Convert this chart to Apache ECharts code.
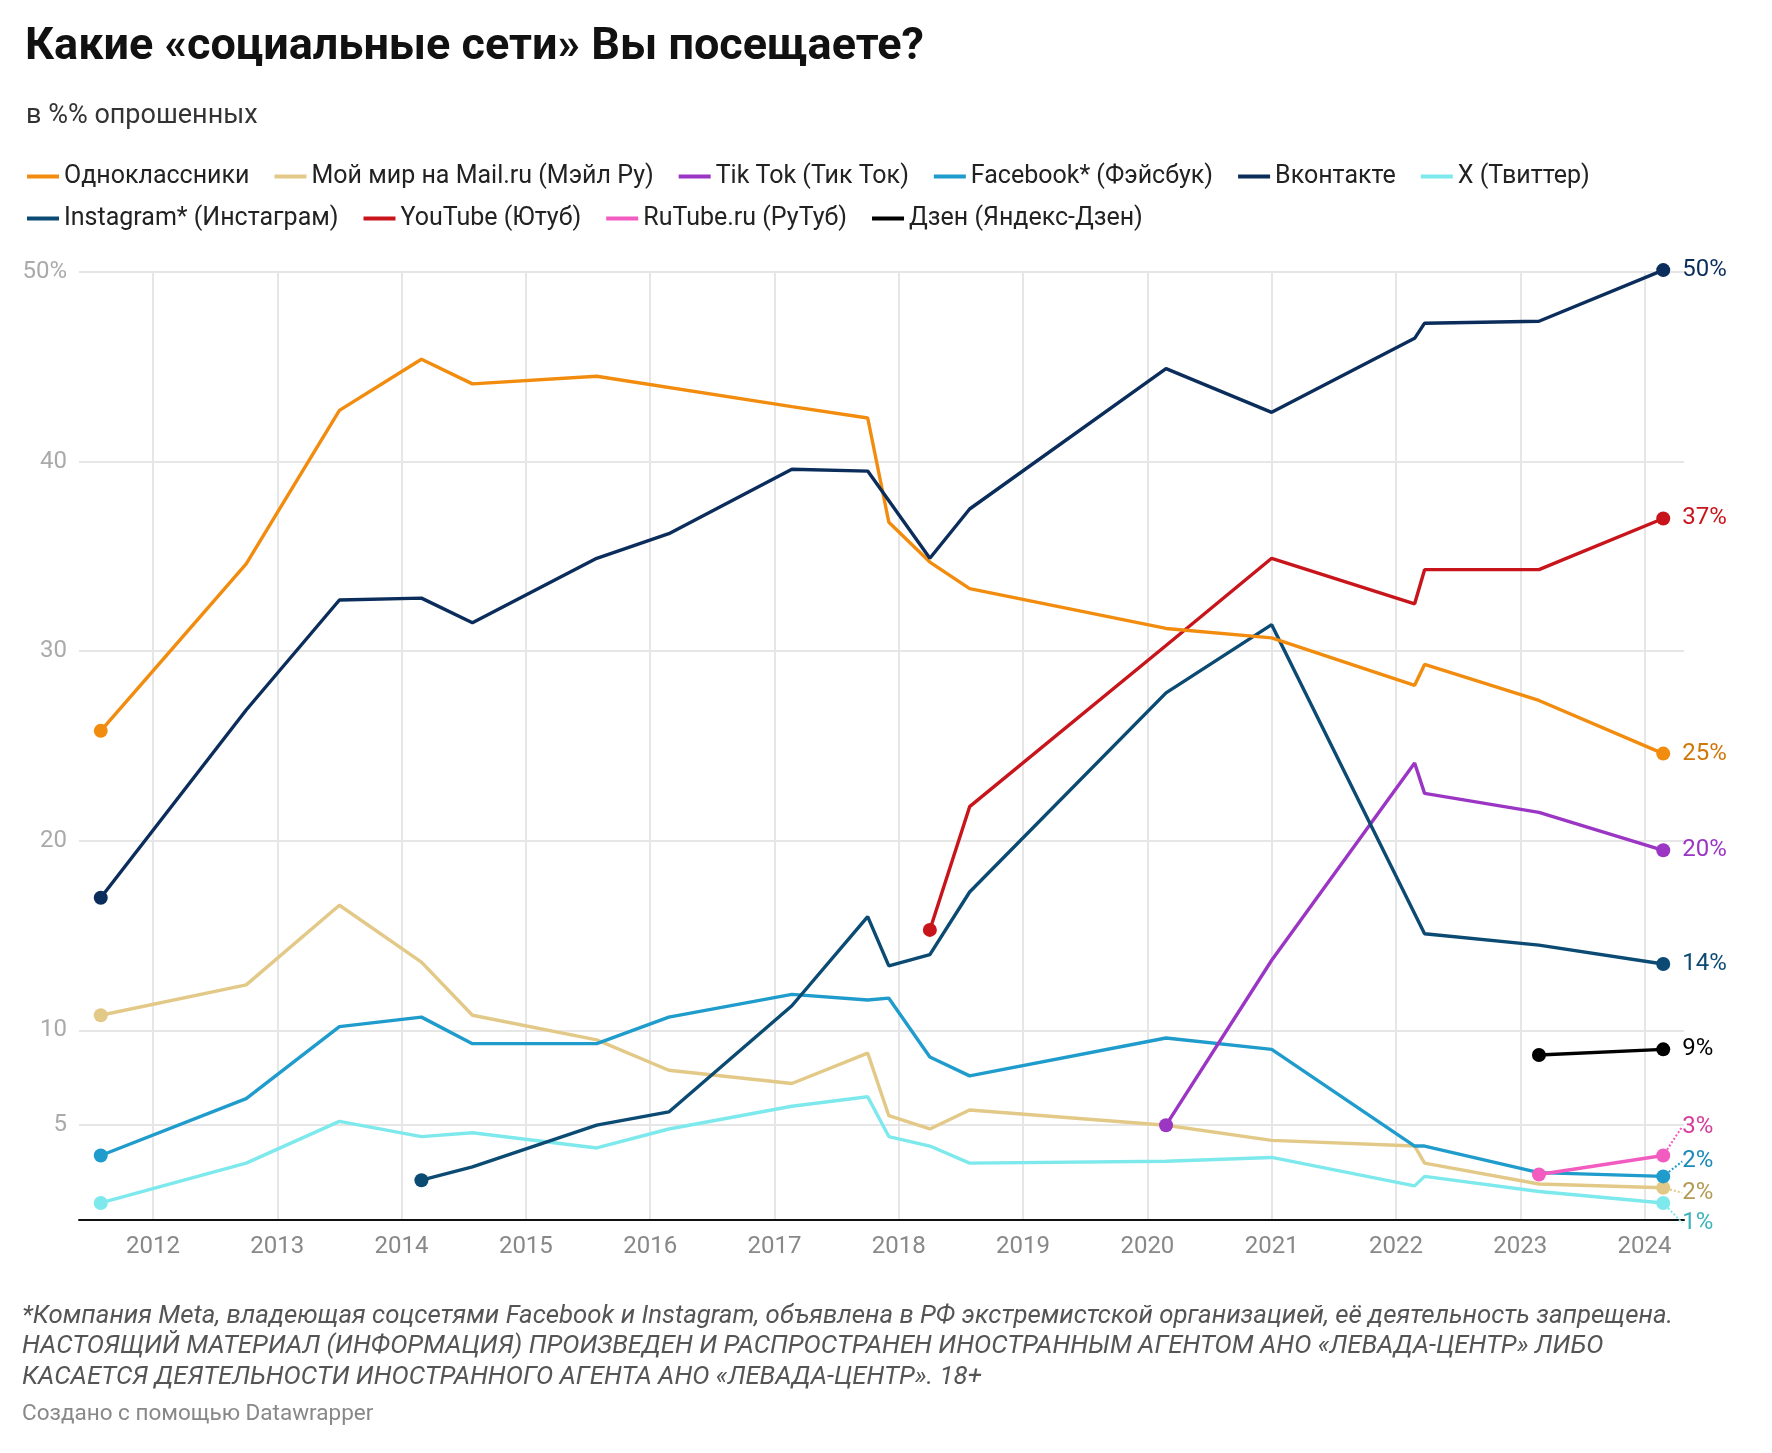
<!DOCTYPE html>
<html>
<head>
<meta charset="utf-8">
<script src="https://cdn.jsdelivr.net/npm/echarts@6/dist/echarts.min.js"></script>
<style>
html,body{margin:0;padding:0;background:#fff;}
#chart{width:1772px;height:1453px;}
</style>
</head>
<body>
<div id="chart"></div>
<script>
// Survey dates (decimal years)
const surveyDates = [2011.58, 2012.75, 2013.5, 2014.16, 2014.57, 2015.57, 2016.15, 2017.14, 2017.75, 2017.92, 2018.25, 2018.57, 2020.15, 2021.0, 2022.15, 2022.23, 2023.15, 2024.15];

const seriesNames = ['Одноклассники', 'Мой мир на Mail.ru (Мэйл Ру)', 'Tik Tok (Тик Ток)', 'Facebook* (Фэйсбук)', 'Вконтакте', 'X (Твиттер)', 'Instagram* (Инстаграм)', 'YouTube (Ютуб)', 'RuTube.ru (РуТуб)', 'Дзен (Яндекс-Дзен)'];

const odnoklassniki = [25.8, 34.6, 42.7, 45.4, 44.1, 44.5, null, 42.9, 42.3, 36.8, 34.7, 33.3, 31.2, 30.7, 28.2, 29.3, 27.4, 24.6];
const moiMir        = [10.8, 12.4, 16.6, 13.6, 10.8, 9.5, 7.9, 7.2, 8.8, 5.5, 4.8, 5.8, 5.0, 4.2, 3.9, 3.0, 1.9, 1.7];
const tikTok        = [null, null, null, null, null, null, null, null, null, null, null, null, 5.0, 13.7, 24.1, 22.5, 21.5, 19.5];
const facebook      = [3.4, 6.4, 10.2, 10.7, 9.3, 9.3, 10.7, 11.9, 11.6, 11.7, 8.6, 7.6, 9.6, 9.0, 3.9, 3.9, 2.5, 2.3];
const vkontakte     = [17.0, 26.9, 32.7, 32.8, 31.5, 34.9, 36.2, 39.6, 39.5, null, 34.9, 37.5, 44.9, 42.6, 46.5, 47.3, 47.4, 50.1];
const twitter       = [0.9, 3.0, 5.2, 4.4, 4.6, 3.8, 4.8, 6.0, 6.5, 4.4, 3.9, 3.0, 3.1, 3.3, 1.8, 2.3, 1.5, 0.9];
const instagram     = [null, null, null, 2.1, 2.8, 5.0, 5.7, 11.3, 16.0, 13.4, 14.0, 17.3, 27.8, 31.4, null, 15.1, 14.5, 13.5];
const youtube       = [null, null, null, null, null, null, null, null, null, null, 15.3, 21.8, 30.3, 34.9, 32.5, 34.3, 34.3, 37.0];
const rutube        = [null, null, null, null, null, null, null, null, null, null, null, null, null, null, null, null, 2.4, 3.4];
const dzen          = [null, null, null, null, null, null, null, null, null, null, null, null, null, null, null, null, 8.7, 9.0];

const endLabels = ['25%', '2%', '20%', '2%', '50%', '1%', '14%', '37%', '3%', '9%'];

const yTicks = [5, 10, 20, 30, 40, 50];
const xTicks = [2012, 2013, 2014, 2015, 2016, 2017, 2018, 2019, 2020, 2021, 2022, 2023, 2024];

const allValues = [odnoklassniki, moiMir, tikTok, facebook, vkontakte, twitter, instagram, youtube, rutube, dzen];
const lineColors  = ['#f28c0f', '#e3c987', '#9b35c4', '#1f9ccc', '#0b2d5b', '#7de9ec', '#0b4a72', '#c8151b', '#f25bbf', '#000000'];
const labelColors = ['#d0770a', '#b59a55', '#9b35c4', '#1a8ab8', '#0b2d5b', '#3bb3bd', '#0b4a72', '#c8151b', '#d63d9e', '#000000'];
const labelDy     = [0, 5, 0, -15, 0, 20, 0, 0, -29, 0];

const FONT = 'Roboto, "Noto Sans", sans-serif';

// draw order: light ones first
const drawOrder = [5, 1, 3, 8, 9, 2, 6, 7, 0, 4];

const series = drawOrder.map(function (i) {
  const data = [];
  allValues[i].forEach(function (v, k) { if (v !== null) data.push([surveyDates[k], v]); });
  const last = data.length - 1;
  const items = data.map(function (d, k) {
    if (k !== last) return { value: d };
    return {
      value: d,
      label: {
        show: true, position: 'right', distance: 12,
        fontFamily: FONT, fontSize: 24, color: labelColors[i],
        formatter: endLabels[i]
      },
      labelLine: labelDy[i] !== 0
        ? { show: true, length2: 0, lineStyle: { type: 'dotted', width: 2, color: lineColors[i] } }
        : { show: false }
    };
  });
  return {
    name: seriesNames[i],
    type: 'line',
    data: items,
    clip: false,
    showSymbol: true,
    showAllSymbol: true,
    symbol: 'circle',
    symbolSize: function (val, p) { return (p.dataIndex === 0 || p.dataIndex === last) ? 14 : 0; },
    lineStyle: { width: 3.4, color: lineColors[i] },
    itemStyle: { color: lineColors[i] },
    color: lineColors[i],
    emphasis: { disabled: true },
    silent: true,
    z: 2 + drawOrder.indexOf(i),
    label: { show: false },
    labelLayout: labelDy[i] !== 0
      ? function (p) { return p.dataIndex === last ? { dy: labelDy[i] } : {}; }
      : null
  };
});

const legendItem = { fontFamily: FONT, fontSize: 25, color: '#222' };
const chart = echarts.init(document.getElementById('chart'), null, { renderer: 'canvas' });
chart.setOption({
  animation: false,
  backgroundColor: '#fff',
  title: [
    { text: 'Какие «социальные сети» Вы посещаете?', left: 20, top: 20,
      textStyle: { fontFamily: FONT, fontSize: 45, fontWeight: 'bold', color: '#111' } },
    { text: 'в %% опрошенных', left: 21, top: 98,
      textStyle: { fontFamily: FONT, fontSize: 27, fontWeight: 'normal', color: '#333' } }
  ],
  legend: [
    { data: seriesNames.slice(0, 6), left: 22, top: 159, icon: 'rect', itemWidth: 32, itemHeight: 4, itemGap: 25,
      textStyle: legendItem, selectedMode: false },
    { data: seriesNames.slice(6), left: 22, top: 201, icon: 'rect', itemWidth: 32, itemHeight: 4, itemGap: 25,
      textStyle: legendItem, selectedMode: false }
  ],
  grid: { left: 79, right: 88, top: 272, bottom: 233, containLabel: false },
  xAxis: {
    type: 'value', min: 2011.405, max: 2024.317,
    axisLine: { show: true, onZero: true, lineStyle: { color: '#111', width: 2 } },
    axisTick: { show: false, customValues: xTicks },
    axisLabel: { customValues: xTicks, formatter: function (v) { return String(v); }, fontFamily: FONT, fontSize: 24, color: '#888', margin: 15 },
    splitLine: { show: true, lineStyle: { color: '#e6e6e6', width: 2 } }
  },
  yAxis: {
    type: 'value', min: 0, max: 50,
    axisLine: { show: false },
    axisTick: { show: false, customValues: yTicks },
    axisLabel: { customValues: yTicks, formatter: function (v) { return v === 50 ? '50%' : String(v); }, fontFamily: FONT, fontSize: 24, color: '#aaa', margin: 12 },
    splitLine: { show: true, lineStyle: { color: '#e6e6e6', width: 2 } }
  },
  graphic: [
    { type: 'text', left: 22, top: 1304, style: { text: '*Компания Meta, владеющая соцсетями Facebook и Instagram, объявлена в РФ экстремистской организацией, её деятельность запрещена.', font: 'italic 25.8px ' + FONT, fill: '#555' } },
    { type: 'text', left: 22, top: 1334, style: { text: 'НАСТОЯЩИЙ МАТЕРИАЛ (ИНФОРМАЦИЯ) ПРОИЗВЕДЕН И РАСПРОСТРАНЕН ИНОСТРАННЫМ АГЕНТОМ АНО «ЛЕВАДА-ЦЕНТР» ЛИБО', font: 'italic 25.8px ' + FONT, fill: '#555' } },
    { type: 'text', left: 22, top: 1365, style: { text: 'КАСАЕТСЯ ДЕЯТЕЛЬНОСТИ ИНОСТРАННОГО АГЕНТА АНО «ЛЕВАДА-ЦЕНТР». 18+', font: 'italic 25.8px ' + FONT, fill: '#555' } },
    { type: 'text', left: 22, top: 1403, style: { text: 'Создано с помощью Datawrapper', font: '22.5px ' + FONT, fill: '#888' } }
  ],
  series: series
});
</script>
</body>
</html>
